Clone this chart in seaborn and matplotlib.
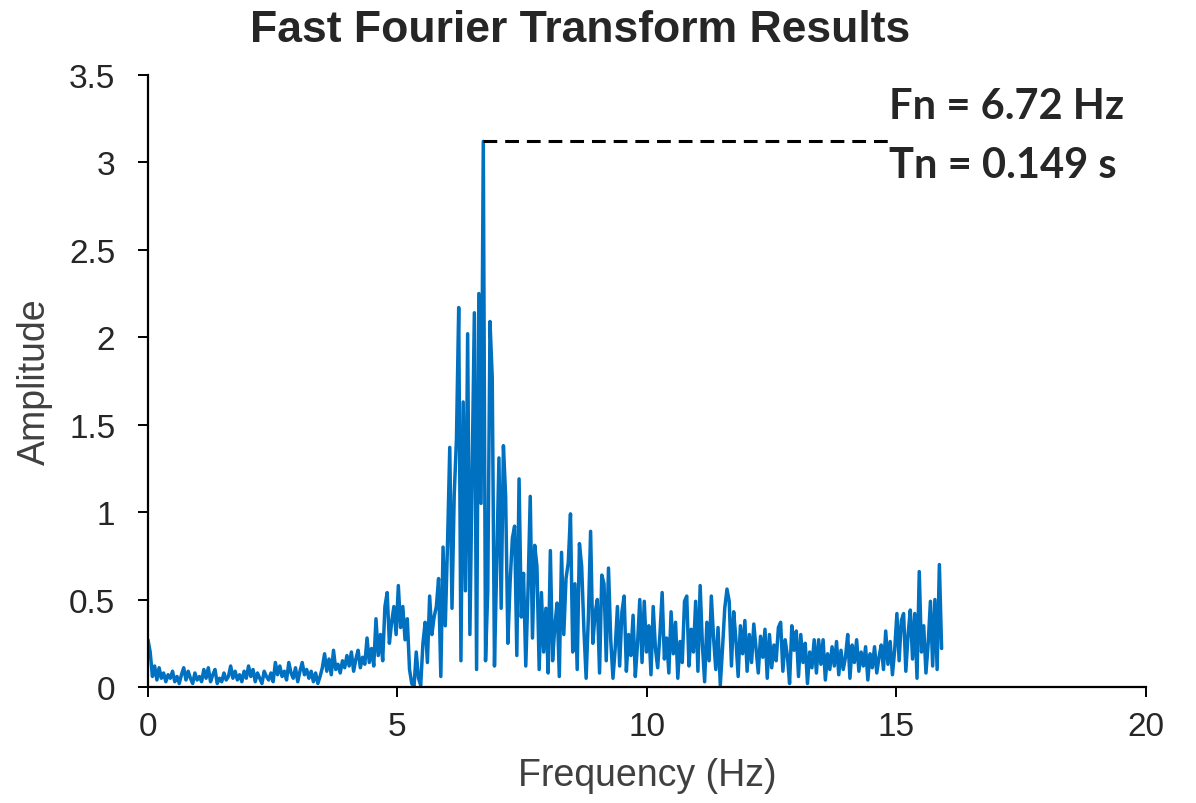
import numpy as np
import pandas as pd
import matplotlib
matplotlib.use('Agg')
import matplotlib.pyplot as plt
import seaborn as sns

# FFT amplitude spectrum (resolution 0.0448 Hz)
df_hz = 0.0448
amplitude = [
    0.27, 0.20, 0.06, 0.12, 0.04, 0.11, 0.05, 0.08, 0.03, 0.07,
    0.05, 0.09, 0.03, 0.06, 0.02, 0.07, 0.11, 0.04, 0.09, 0.05,
    0.02, 0.08, 0.04, 0.06, 0.03, 0.10, 0.05, 0.11, 0.03, 0.07,
    0.10, 0.02, 0.05, 0.03, 0.08, 0.04, 0.06, 0.12, 0.05, 0.09,
    0.04, 0.07, 0.03, 0.09, 0.05, 0.12, 0.06, 0.10, 0.03, 0.08,
    0.05, 0.02, 0.09, 0.06, 0.04, 0.08, 0.03, 0.14, 0.07, 0.12,
    0.06, 0.09, 0.04, 0.14, 0.08, 0.05, 0.11, 0.03, 0.09, 0.14,
    0.07, 0.10, 0.05, 0.09, 0.03, 0.08, 0.02, 0.06, 0.11, 0.19,
    0.09, 0.16, 0.07, 0.21, 0.10, 0.13, 0.08, 0.15, 0.11, 0.18,
    0.12, 0.20, 0.09, 0.16, 0.21, 0.11, 0.17, 0.13, 0.28, 0.14,
    0.22, 0.12, 0.39, 0.18, 0.30, 0.15, 0.46, 0.54, 0.25, 0.37,
    0.46, 0.30, 0.58, 0.34, 0.46, 0.27, 0.39, 0.10, 0.02, 0.00,
    0.20, 0.05, 0.01, 0.25, 0.37, 0.14, 0.52, 0.30, 0.40, 0.46,
    0.62, 0.06, 0.80, 0.35, 0.82, 1.37, 0.45, 1.10, 1.42, 2.17,
    0.15, 1.63, 0.55, 2.02, 0.30, 1.21, 2.14, 0.10, 2.25, 1.05,
    3.12, 0.15, 0.55, 2.09, 1.77, 0.12, 0.70, 1.31, 0.45, 1.38,
    1.09, 0.25, 0.60, 0.85, 0.92, 0.18, 1.19, 0.40, 0.65, 0.12,
    0.55, 1.09, 0.28, 0.81, 0.69, 0.10, 0.54, 0.20, 0.45, 0.08,
    0.78, 0.15, 0.35, 0.48, 0.06, 0.77, 0.30, 0.62, 0.71, 0.99,
    0.20, 0.59, 0.10, 0.82, 0.69, 0.33, 0.05, 0.40, 0.89, 0.25,
    0.42, 0.50, 0.08, 0.64, 0.59, 0.15, 0.68, 0.27, 0.05, 0.22,
    0.46, 0.12, 0.43, 0.52, 0.09, 0.30, 0.18, 0.41, 0.06, 0.25,
    0.50, 0.14, 0.49, 0.20, 0.35, 0.07, 0.46, 0.22, 0.11, 0.30,
    0.54, 0.16, 0.28, 0.08, 0.43, 0.19, 0.37, 0.05, 0.26, 0.14,
    0.49, 0.52, 0.12, 0.33, 0.20, 0.49, 0.09, 0.58, 0.24, 0.03,
    0.37, 0.15, 0.52, 0.28, 0.10, 0.34, 0.01, 0.22, 0.45, 0.56,
    0.49, 0.12, 0.43, 0.27, 0.06, 0.35, 0.19, 0.38, 0.09, 0.30,
    0.14, 0.36, 0.22, 0.08, 0.29, 0.17, 0.33, 0.05, 0.30, 0.11,
    0.24, 0.15, 0.34, 0.37, 0.09, 0.27, 0.18, 0.02, 0.35, 0.21,
    0.32, 0.06, 0.30, 0.14, 0.25, 0.02, 0.20, 0.11, 0.27, 0.08,
    0.27, 0.13, 0.27, 0.04, 0.19, 0.10, 0.23, 0.12, 0.26, 0.07,
    0.21, 0.10, 0.17, 0.30, 0.05, 0.24, 0.14, 0.27, 0.09, 0.20,
    0.12, 0.23, 0.04, 0.19, 0.11, 0.23, 0.08, 0.17, 0.24, 0.10,
    0.32, 0.13, 0.26, 0.07, 0.21, 0.42, 0.15, 0.38, 0.42, 0.09,
    0.30, 0.44, 0.16, 0.42, 0.05, 0.66, 0.20, 0.35, 0.08, 0.25,
    0.49, 0.12, 0.50, 0.10, 0.70, 0.22,
]
frequency = np.arange(len(amplitude)) * df_hz

fn_hz = 6.72
tn_s = 0.149
peak_amp = 3.12
dash_end_hz = 14.93

x_ticks = [0, 5, 10, 15, 20]
y_ticks = [0, 0.5, 1, 1.5, 2, 2.5, 3, 3.5]

data = pd.DataFrame({'Frequency': frequency, 'Amplitude': amplitude})

sns.set_style('ticks')
plt.rcParams['font.family'] = ['Liberation Sans', 'DejaVu Sans']

fig = plt.figure(figsize=(11.96, 8.04), dpi=100)
ax = fig.add_axes([0.1237, 0.1443, 0.8345, 0.7612])

sns.lineplot(data=data, x='Frequency', y='Amplitude', ax=ax, color='#0070C0',
             linewidth=2.5, estimator=None, sort=False)

# peak marker line
ax.plot([fn_hz, dash_end_hz], [peak_amp, peak_amp], color='black', lw=2.2,
        dashes=(4.5, 2.6))

ax.set_xlim(0, 20)
ax.set_ylim(0, 3.5)
ax.set_xticks(x_ticks)
ax.set_yticks(y_ticks)
ax.set_xticklabels([str(t) for t in x_ticks])
ax.set_yticklabels([f'{t:g}' for t in y_ticks])
ax.tick_params(axis='both', labelsize=24, labelcolor='#262626', colors='black',
               width=1.4, length=7.5, direction='out')
ax.tick_params(axis='x', pad=10)
ax.tick_params(axis='y', pad=16)
for side in ['left', 'bottom']:
    ax.spines[side].set_linewidth(1.6)
    ax.spines[side].set_color('black')
sns.despine(ax=ax)

ax.set_xlabel('Frequency (Hz)', fontsize=27, color='#404040')
ax.set_ylabel('Amplitude', fontsize=27, color='#404040')
ax.xaxis.set_label_coords(0.5, -0.115)
ax.yaxis.set_label_coords(-0.095, 0.5)

fig.text(0.485, 0.962, 'Fast Fourier Transform Results', ha='center', va='center',
         fontsize=32, fontweight='bold', color='#262626')

ax.text(14.85, 3.32, f'Fn = {fn_hz:.2f} Hz', fontsize=30, fontweight='bold',
        family=['Lato', 'DejaVu Sans'], color='#262626', va='center', ha='left')
ax.text(14.85, 2.985, f'Tn = {tn_s:.3f} s', fontsize=30, fontweight='bold',
        family=['Lato', 'DejaVu Sans'], color='#262626', va='center', ha='left')

fig.savefig('out.png', dpi=100)
